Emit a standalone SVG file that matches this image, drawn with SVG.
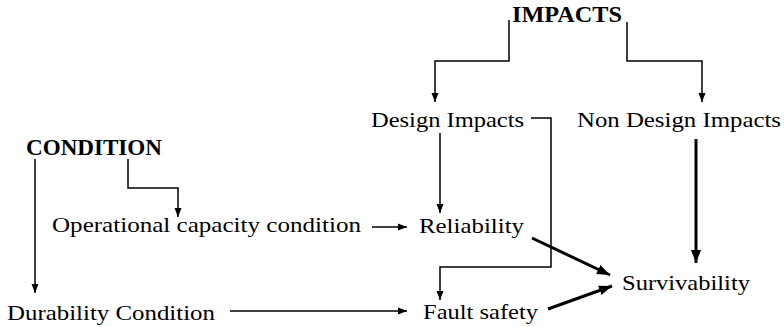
<svg xmlns="http://www.w3.org/2000/svg" width="784" height="327" viewBox="0 0 784 327">
<defs>
<marker id="ah" markerUnits="userSpaceOnUse" markerWidth="10" markerHeight="8" refX="9" refY="4" orient="auto">
<path d="M0,0.5 L9,4 L0,7.5 z" fill="#000"/>
</marker>
<marker id="ahb" markerUnits="userSpaceOnUse" markerWidth="14" markerHeight="12" refX="13" refY="6" orient="auto">
<path d="M0,1 L13,6 L0,11 z" fill="#000"/>
</marker>
</defs>
<style>
.b{font-weight:bold}
.c{fill:none;stroke:#000;stroke-width:1.5}
.t{fill:none;stroke:#000;stroke-width:3}
</style>
<rect width="784" height="327" fill="#fff"/>
<g font-family="Liberation Serif" font-size="22" fill="#000">
<g id="impacts"><text class="b" font-size="23" x="512" y="22" textLength="110" lengthAdjust="spacingAndGlyphs">IMPACTS</text></g>
<g id="condition"><text class="b" font-size="23" x="26" y="155" textLength="136" lengthAdjust="spacingAndGlyphs">CONDITION</text></g>
<g id="design"><text x="371" y="127" textLength="153" lengthAdjust="spacingAndGlyphs">Design Impacts</text></g>
<g id="nondesign"><text x="577" y="127" textLength="204" lengthAdjust="spacingAndGlyphs">Non Design Impacts</text></g>
<g id="operational"><text x="52" y="232" textLength="309" lengthAdjust="spacingAndGlyphs">Operational capacity condition</text></g>
<g id="reliability"><text x="419" y="233" textLength="105" lengthAdjust="spacingAndGlyphs">Reliability</text></g>
<g id="durability"><text x="7" y="320" textLength="208" lengthAdjust="spacingAndGlyphs">Durability Condition</text></g>
<g id="fault"><text x="423" y="319" textLength="115" lengthAdjust="spacingAndGlyphs">Fault safety</text></g>
<g id="survivability"><text x="622" y="290" textLength="128" lengthAdjust="spacingAndGlyphs">Survivability</text></g>
</g>
<g id="connectors">
<path class="c" d="M509,20 V61 H435 V102" marker-end="url(#ah)"/>
<path class="c" d="M627,22 V61 H702 V102" marker-end="url(#ah)"/>
<path class="c" d="M440,133 V213" marker-end="url(#ah)"/>
<path class="c" d="M531,118 H551 V267 H440 V300" marker-end="url(#ah)"/>
<path class="c" d="M35,159 V293" marker-end="url(#ah)"/>
<path class="c" d="M128,159 V188 H178 V217" marker-end="url(#ah)"/>
<path class="c" d="M372,227 H407" marker-end="url(#ah)"/>
<path class="c" d="M230,311 H407" marker-end="url(#ah)"/>
<path class="t" d="M696,139 V263" marker-end="url(#ahb)"/>
<path class="t" d="M532,238 L610,275" marker-end="url(#ahb)"/>
<path class="t" d="M548,309 L612,286" marker-end="url(#ahb)"/>
</g>
</svg>
